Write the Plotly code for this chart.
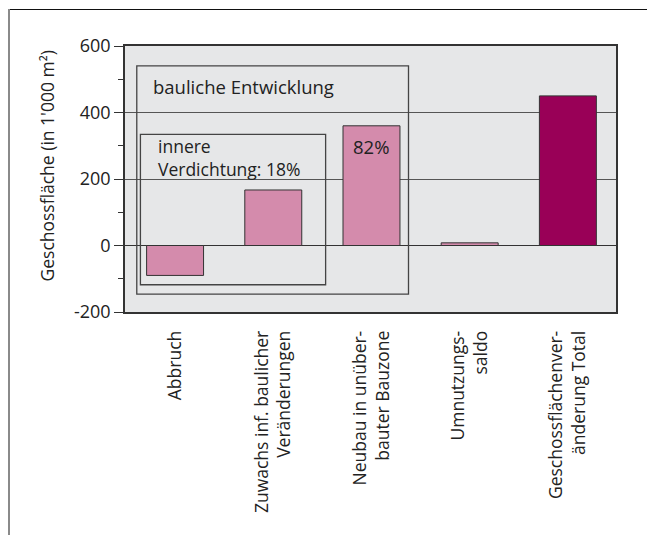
import plotly.graph_objects as go

# ---- data ----
categories = [
    "Abbruch",
    "Zuwachs inf. baulicher<br>Veränderungen",
    "Neubau in unüber-<br>bauter Bauzone",
    "Umnutzungs-<br>saldo",
    "Geschossflächenver-<br>änderung Total",
]
values = [-90, 167, 360, 8, 450]
bar_colors = ["#d48bac", "#d48bac", "#d48bac", "#d48bac", "#990057"]
y_tickvals = [-200, 0, 200, 400, 600]
y_ticktext = ["-200", "0", "200", "400", "600"]
y_title = "Geschossfläche (in 1'000 m²)"
box_outer_label = "bauliche Entwicklung"
box_inner_label = "innere<br>Verdichtung: 18%"
neubau_share = "82%"

FONT = "Open Sans"
W, H = 647, 535
ML, MR, MT, MB = 125, 31, 46, 223
PW, PH = W - ML - MR, H - MT - MB


def px2paper_x(px):
    return (px - ML) / PW


def px2paper_y(py):
    return (H - MB - py) / PH


xpos = list(range(len(categories)))

fig = go.Figure()
fig.add_trace(go.Bar(
    x=xpos,
    y=values,
    marker=dict(color=bar_colors, line=dict(color="#333333", width=1)),
    width=0.58,
    hoverinfo="skip",
))

shapes = [
    # outer box "bauliche Entwicklung"
    dict(type="rect", xref="x", yref="y", x0=-0.39, x1=2.377, y0=-146, y1=540,
         line=dict(color="#444444", width=1.3), layer="above"),
    # inner box "innere Verdichtung"
    dict(type="rect", xref="x", yref="y", x0=-0.353, x1=1.533, y0=-118, y1=334,
         line=dict(color="#444444", width=1.3), layer="above"),
    # outer frame (top + left)
    dict(type="line", xref="paper", yref="paper",
         x0=px2paper_x(8), x1=px2paper_x(660), y0=px2paper_y(9.5), y1=px2paper_y(9.5),
         line=dict(color="#111111", width=1.2)),
    dict(type="line", xref="paper", yref="paper",
         x0=px2paper_x(9), x1=px2paper_x(9), y0=px2paper_y(9), y1=px2paper_y(545),
         line=dict(color="#8a8a8a", width=2)),
]

ann_font = dict(family=FONT, size=18.5, color="#222222")
annotations = [
    dict(text=box_outer_label, xref="x", yref="y", x=-0.245, y=477,
         xanchor="left", yanchor="middle", showarrow=False, font=ann_font),
    dict(text=box_inner_label, xref="x", yref="y", x=-0.195, y=264,
         xanchor="left", yanchor="middle", align="left", showarrow=False,
         font=dict(family=FONT, size=17.5, color="#222222")),
    dict(text=neubau_share, xref="x", yref="y", x=2.0, y=298,
         xanchor="center", yanchor="middle", showarrow=False, font=ann_font),
    # y-axis title
    dict(text=y_title, xref="paper", yref="paper",
         x=px2paper_x(46.5), y=px2paper_y(166), textangle=-90,
         xanchor="center", yanchor="middle", showarrow=False,
         font=dict(family=FONT, size=17.5, color="#222222")),
]

fig.update_layout(
    width=W, height=H,
    margin=dict(l=ML, r=MR, t=MT, b=MB, pad=0),
    paper_bgcolor="white",
    plot_bgcolor="#e6e7e8",
    showlegend=False,
    font=dict(family=FONT, size=17, color="#222222"),
    shapes=shapes,
    annotations=annotations,
    xaxis=dict(
        range=[-0.51, 4.49],
        tickvals=xpos,
        ticktext=categories,
        tickangle=-90,
        showgrid=False,
        zeroline=False,
        showline=True, linecolor="#333333", linewidth=1.5, mirror=True,
        ticks="",
        ticklabelstandoff=10,
        tickfont=dict(family=FONT, size=17.5, color="#222222"),
    ),
    yaxis=dict(
        range=[-200, 600],
        tickvals=y_tickvals,
        ticktext=y_ticktext,
        showgrid=True, gridcolor="#555555", gridwidth=1.3,
        zeroline=True, zerolinecolor="#333333", zerolinewidth=1.3,
        showline=True, linecolor="#333333", linewidth=1.5, mirror=True,
        ticks="outside", ticklen=9, tickcolor="#333333", tickwidth=1,
        minor=dict(dtick=100, tick0=0, ticks="outside", ticklen=5,
                   tickcolor="#333333", showgrid=False),
        tickfont=dict(family=FONT, size=18, color="#222222"),
    ),
)

fig.write_html("out.html")
